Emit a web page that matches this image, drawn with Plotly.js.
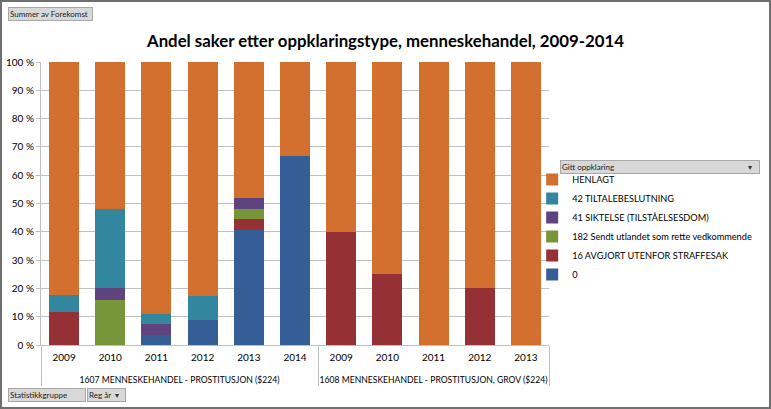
<!DOCTYPE html>
<html>
<head>
<meta charset="utf-8">
<script src="https://cdn.plot.ly/plotly-3.0.1.min.js"></script>
<style>
  html, body { margin: 0; padding: 0; background: #ffffff; }
  #frame { width: 771px; height: 409px; box-sizing: border-box; border: 2px solid #6f6f6f; background: #fff; overflow: hidden; }
  #chart { width: 767px; height: 405px; }
</style>
</head>
<body>
<div id="frame"><div id="chart"></div></div>
<script>
// ---- data (percent of cases per group/year) ----
const groups = [
  "1607 MENNESKEHANDEL - PROSTITUSJON ($224)", "1607 MENNESKEHANDEL - PROSTITUSJON ($224)",
  "1607 MENNESKEHANDEL - PROSTITUSJON ($224)", "1607 MENNESKEHANDEL - PROSTITUSJON ($224)",
  "1607 MENNESKEHANDEL - PROSTITUSJON ($224)", "1607 MENNESKEHANDEL - PROSTITUSJON ($224)",
  "1608 MENNESKEHANDEL - PROSTITUSJON, GROV ($224)", "1608 MENNESKEHANDEL - PROSTITUSJON, GROV ($224)",
  "1608 MENNESKEHANDEL - PROSTITUSJON, GROV ($224)", "1608 MENNESKEHANDEL - PROSTITUSJON, GROV ($224)",
  "1608 MENNESKEHANDEL - PROSTITUSJON, GROV ($224)"
];
const years = ["2009", "2010", "2011", "2012", "2013", "2014", "2009", "2010", "2011", "2012", "2013"];

const seriesNames = [
  "0",
  "16 AVGJORT UTENFOR STRAFFESAK",
  "182 Sendt utlandet som rette vedkommende",
  "41 SIKTELSE (TILSTÅELSESDOM)",
  "42 TILTALEBESLUTNING",
  "HENLAGT"
];
const val0       = [0,    0,  3.7,  8.7, 40.7, 66.7,  0,  0,   0,  0,   0];
const val16      = [11.8, 0,  0,    0,    3.7,  0,   40, 25,   0, 20,   0];
const val182     = [0,   16,  0,    0,    3.7,  0,    0,  0,   0,  0,   0];
const val41      = [0,    4,  3.7,  0,    3.7,  0,    0,  0,   0,  0,   0];
const val42      = [5.9, 28,  3.7,  8.7,  0,    0,    0,  0,   0,  0,   0];
const valHenlagt = [82.3, 52, 88.9, 82.6, 48.2, 33.3, 60, 75, 100, 80, 100];

const colors = ["#365E96", "#953135", "#779639", "#5E437F", "#32879F", "#D4702F"];
const allValues = [val0, val16, val182, val41, val42, valHenlagt];

// tick label styling (text itself unchanged)
const groupLabels = groups.map(g => "<br><span style='font-size:8.6px'>" + g + "</span>");
const yearLabels = years.map(y => "<span style='font-size:10px'>" + y + "</span>");

const traces = allValues.map((v, i) => ({
  type: "bar",
  name: seriesNames[i],
  x: [groupLabels, yearLabels],
  y: v,
  marker: { color: colors[i], line: { width: 0 } },
  hovertemplate: "%{y:.1f} %<extra>" + seriesNames[i] + "</extra>"
}));

// ---- pixel helpers (image px -> paper coords); plot area spans x 41..554, y 62..345 ----
const PL = 41, PR = 554, PT = 62, PB = 345;
const px = x => (x - PL) / (PR - PL);
const py = y => (PB - y) / (PB - PT);

const FONT = "Lato, 'Open Sans', 'Liberation Sans', sans-serif";
const btnFont = { family: FONT, size: 8, color: "#222" };

function button(text, x0, x1, y0, y1) {
  return {
    xref: "paper", yref: "paper", x: px(x0), y: py(y0), xanchor: "left", yanchor: "top",
    text: text, showarrow: false, align: "left", font: btnFont,
    bgcolor: "#d8d8d8", bordercolor: "#a8a8a8", borderwidth: 1, borderpad: 1,
    width: x1 - x0 - 4, height: y1 - y0 - 4
  };
}
function arrow(x, y) {
  return { xref: "paper", yref: "paper", x: px(x), y: py(y), xanchor: "center", yanchor: "middle",
           text: "▾", showarrow: false, font: { size: 8, color: "#333" } };
}

const annotations = [
  button("Summer av Forekomst", 8, 93, 7, 21),
  button("Gitt oppklaring", 565, 765, 160, 174),
  arrow(757, 167),
  button("Statistikkgruppe", 8, 86, 388, 402),
  button("Reg år", 87, 126, 388, 402),
  arrow(118, 395)
];

const layout = {
  width: 767, height: 405,
  margin: { l: PL - 2, r: 767 - (PR - 2), t: PT - 2, b: 405 - (PB - 2) },
  paper_bgcolor: "#ffffff",
  plot_bgcolor: "#ffffff",
  barmode: "stack",
  bargap: 0.35,
  showlegend: true,
  title: {
    text: "<b>Andel saker etter oppklaringstype, menneskehandel, 2009-2014</b>",
    font: { family: FONT, size: 16.8, color: "#000" },
    x: 0.5, xanchor: "center", xref: "container",
    y: 1 - 39 / 405, yanchor: "middle", yref: "container"
  },
  font: { family: FONT, size: 10, color: "#000" },
  xaxis: {
    type: "multicategory",
    showline: true, linecolor: "#bfbfbf", linewidth: 1,
    showgrid: false, ticks: "outside", ticklen: 2, tickcolor: "rgba(0,0,0,0)",
    ticklabelstandoff: 4,
    showdividers: true, dividercolor: "#bfbfbf", dividerwidth: 1,
    tickfont: { family: FONT, size: 9.3, color: "#000" }
  },
  yaxis: {
    range: [0, 100], dtick: 10, ticksuffix: " %",
    showgrid: true, gridcolor: "#bfbfbf", gridwidth: 1,
    showline: true, linecolor: "#bfbfbf", linewidth: 1,
    ticks: "outside", ticklen: 4, tickcolor: "#bfbfbf",
    zeroline: false, fixedrange: true,
    tickfont: { family: FONT, size: 10, color: "#000" }
  },
  legend: {
    x: px(537), xanchor: "left",
    y: py(165), yanchor: "top",
    traceorder: "reversed",
    bgcolor: "rgba(0,0,0,0)",
    font: { family: FONT, size: 9.2, color: "#000" },
    itemclick: false, itemdoubleclick: false
  },
  annotations: annotations
};

Plotly.newPlot("chart", traces, layout, { displayModeBar: false });
</script>
</body>
</html>
